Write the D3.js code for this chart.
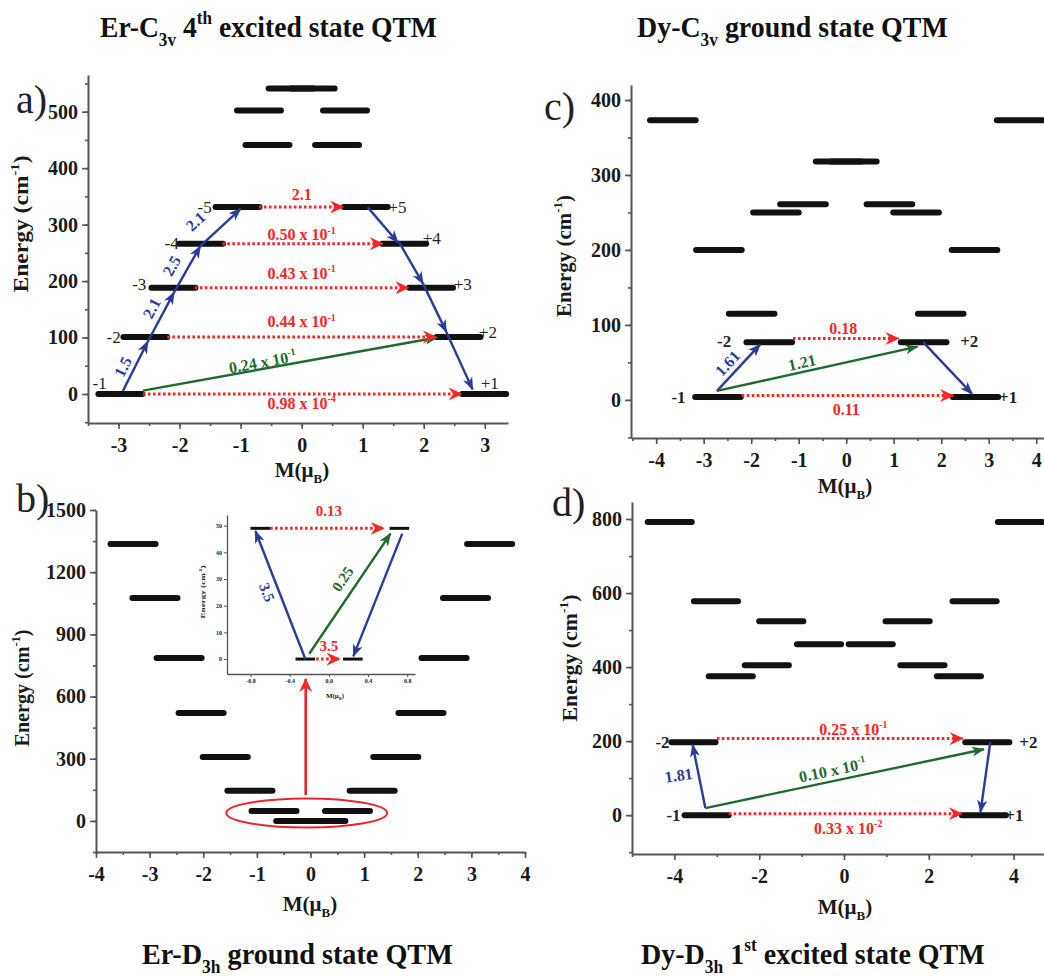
<!DOCTYPE html>
<html>
<head>
<meta charset="utf-8">
<script src="https://cdn.jsdelivr.net/npm/d3@7"></script>
<style>
  body { margin: 0; background: #fff; }
  svg { display: block; font-family: "Liberation Serif", "Times New Roman", serif; }
</style>
</head>
<body>
<svg id="chart" width="1044" height="976"></svg>
<script>
// ---------- data ----------
// energy levels: [M (muB), E (cm-1)]
const levelsA = [[-2.97,0],[2.99,0],[-2.56,101],[2.57,101],[-2.1,188],[2.12,188],[-1.65,266],[1.68,266],
  [-1.05,331],[1.05,331],[-0.56,441],[0.58,441],[-0.7,502],[0.71,502],[-0.18,541],[0.18,541]]
const levelsB = [[-3.31,1336],[3.34,1336],[-2.9,1076],[2.89,1076],[-2.45,786],[2.49,786],[-2.04,521],[2.06,521],
  [-1.59,308],[1.59,308],[-1.13,145],[1.15,145],[-0.68,48],[0.69,48],[-0.22,0],[0.23,0]]
const levelsC = [[-3.65,373],[3.65,373],[-2.68,200],[2.7,200],[-1.99,115],[1.99,115],[-1.62,77],[1.63,77],
  [-1.48,250],[1.47,250],[-0.91,261],[0.91,261],[-0.16,318],[0.16,318],[-2.7,4],[2.72,4]]
const levelsD = [[-4.11,792],[4.15,792],[-3.02,578],[3.08,578],[-2.67,375],[2.71,375],[-1.82,405],[1.85,405],
  [-1.48,524],[1.5,524],[-0.59,462],[0.63,462],[-3.55,197],[3.38,197],[-3.24,0],[3.3,0]]
const levelsInset = [[-0.7,49],[0.72,49],[-0.24,0],[0.245,0]]

// state tags: [text, M, E]
const tagsA = [["-1",-3.31,19],["+1",3.08,19],["-2",-3.08,101],["+2",3.05,110],["-3",-2.66,195],["+3",2.64,195],
  ["-4",-2.13,268],["+4",2.13,277],["-5",-1.59,331],["+5",1.57,331]]
const tagsC = [["-2",-2.57,79],["+2",2.59,79],["-1",-3.53,4],["+1",3.41,4]]
const tagsD = [["-2",-4.28,197],["+2",4.35,197],["-1",-4.02,0],["+1",4.02,0]]

// transitions: [kind, M1, E1, M2, E2, label, labelM, labelE]
const arrowsA = [
  ["blue",-2.93,5,-2.52,93,"1.5",-2.93,48],
  ["blue",-2.52,93,-2.09,180,"2.1",-2.46,152],
  ["blue",-2.09,180,-1.66,262,"2.5",-2.13,227],
  ["blue",-1.66,262,-1.0,328,"2.1",-1.74,306],
  ["blue",1.08,331,1.58,268],
  ["blue",1.6,268,1.99,195],
  ["blue",1.99,195,2.37,110],
  ["blue",2.37,110,2.8,8],
  ["green",-2.6,6,2.22,100,"0.24 x 10^{-1}",-0.64,57],
  ["red",-2.6,0,2.62,0,"0.98 x 10^{-4}",0,-17],
  ["red",-2.2,101,2.2,101,"0.44 x 10^{-1}",0,128],
  ["red",-1.75,188,1.75,188,"0.43 x 10^{-1}",0,214],
  ["red",-1.3,266,1.33,266,"0.50 x 10^{-1}",0,282],
  ["red",-0.7,331,0.68,331,"2.1",0,353]
]
const arrowsC = [
  ["blue",-2.72,12,-1.81,74,"1.61",-2.5,49],
  ["green",-2.72,12,1.5,71,"1.21",-0.93,50],
  ["blue",1.62,77,2.65,8],
  ["red",-1.12,82,1.1,82,"0.18",-0.06,96],
  ["red",-2.2,6,2.25,6,"0.11",0,-12]
]
const arrowsD = [
  ["blue",-3.27,19,-3.57,190,"1.81",-3.9,108],
  ["green",-3.27,19,3.3,178,"0.10 x 10^{-1}",-0.27,122],
  ["blue",3.45,197,3.22,8],
  ["red",-3.0,207,2.8,207,"0.25 x 10^{-1}",0.22,232],
  ["red",-2.72,4,2.78,4,"0.33 x 10^{-2}",0.1,-35]
]
const arrowsInset = [
  ["blue",-0.24,0,-0.75,48,"3.5",-0.63,25],
  ["green",-0.2,2,0.63,47,"0.25",0.14,30],
  ["blue",0.75,47,0.25,1],
  ["red",-0.6,49,0.56,49,"0.13",0,55.5],
  ["red",-0.13,0,0.11,0,"3.5",0,5]
]
// panel b: red ellipse [M, E, rM, rE] around the ground doublets and the zoom arrow [M1,E1,M2,E2]
const ellipseB = [-0.07, 38, 1.5, 70]
const zoomArrowB = [-0.09, 125, -0.09, 685]

// ticks
const yTicksA = [0,100,200,300,400,500], xTicksA = [-3,-2,-1,0,1,2,3]
const yTicksB = [0,300,600,900,1200,1500], xTicksB = [-4,-3,-2,-1,0,1,2,3,4]
const yTicksC = [0,100,200,300,400], xTicksC = [-4,-3,-2,-1,0,1,2,3,4]
const yTicksD = [0,200,400,600,800], xTicksD = [-4,-2,0,2,4]
const yTicksInset = [0,10,20,30,40,50], xTicksInset = [-0.8,-0.4,0,0.4,0.8]

const titles = ["Er-C_{3v} 4^{th} excited state QTM", "Dy-C_{3v} ground state QTM",
  "Er-D_{3h} ground state QTM", "Dy-D_{3h} 1^{st} excited state QTM"]

// ---------- drawing ----------
const FONT = '"Liberation Serif", "Times New Roman", serif'
const colors = {blue: "#2b3b9c", green: "#1d6b2c", red: "#ff2424"}
const flatLabels = new Set(["1.81"])
const svg = d3.select("#chart")

const defs = svg.append("defs")
Object.entries(colors).forEach(([k, c]) => {
  const big = k === "red"
  defs.append("marker")
      .attr("id", "head-" + k)
      .attr("viewBox", "0 -7 15 14")
      .attr("refX", big ? 13 : 12).attr("refY", 0)
      .attr("markerWidth", 15).attr("markerHeight", 14)
      .attr("markerUnits", "userSpaceOnUse")
      .attr("orient", "auto")
    .append("path")
      .attr("d", big ? "M0,-6.5L14,0L0,6.5L4.5,0Z" : "M0,-5L13,0L0,5L3.5,0Z")
      .attr("fill", c)
})

// text with ^{sup} and _{sub}; dy0 = offset of the first run
function rich(t, str, size, dy0 = 0) {
  const re = /([_^])\{([^}]*)\}/g
  let last = 0, m, shift = -dy0
  const add = (s, dy, fs) => t.append("tspan").attr("dy", dy).attr("font-size", fs).text(s)
  while ((m = re.exec(str))) {
    if (m.index > last) { add(str.slice(last, m.index), -shift, size); shift = 0 }
    const s = m[1] === "^" ? -0.42 * size : 0.3 * size
    add(m[2], s - shift, size * 0.62)
    shift = s
    last = re.lastIndex
  }
  if (last < str.length) add(str.slice(last), -shift, size)
  return t
}

// squeeze a text to a given width (the reference type is condensed)
function fitWidth(t, w, pre) {
  const k = w / t.node().getComputedTextLength()
  t.attr("transform", `${pre} scale(${k},1)`)
}

function styleAxis(g, size) {
  g.attr("font-family", FONT).attr("font-size", size).attr("font-weight", "bold")
  g.select(".domain").attr("stroke", "#555").attr("stroke-width", size > 10 ? 2 : 1.3)
  g.selectAll(".tick line").attr("stroke", "#555").attr("stroke-width", size > 10 ? 1.6 : 1)
  g.selectAll(".tick text").attr("fill", "#1a1a1a")
}

function drawPanel(p) {
  const g = svg.append("g")
  const x = d3.scaleLinear().domain(p.xDomain).range([p.l, p.r])
  const y = d3.scaleLinear().domain(p.yDomain).range([p.b, p.t])
  const fs = p.small ? 6 : 20
  const tk = p.small ? 3 : 6
  const fmt = p.small ? (d => d === 0 ? "0.0" : d.toFixed(1)) : (d => String(d))

  // minor ticks
  if (p.xMinor) g.append("g").attr("transform", `translate(0,${p.b})`)
      .call(d3.axisBottom(x).tickValues(p.xMinor).tickSize(3).tickFormat(""))
      .call(s => { s.select(".domain").remove(); styleAxis(s, fs) })
  if (p.yMinor) g.append("g").attr("transform", `translate(${p.l},0)`)
      .call(d3.axisLeft(y).tickValues(p.yMinor).tickSize(3).tickFormat(""))
      .call(s => { s.select(".domain").remove(); styleAxis(s, fs) })

  g.append("g").attr("transform", `translate(0,${p.b})`)
      .call(d3.axisBottom(x).tickValues(p.xTicks).tickSize(tk).tickSizeOuter(0)
        .tickPadding(p.small ? 2 : 9).tickFormat(fmt))
      .call(s => styleAxis(s, fs))
  g.append("g").attr("transform", `translate(${p.l},0)`)
      .call(d3.axisLeft(y).tickValues(p.yTicks).tickSize(tk).tickSizeOuter(0)
        .tickPadding(p.small ? 2 : 4).tickFormat(p.small ? (d => String(d)) : fmt))
      .call(s => styleAxis(s, fs))

  // axis titles
  const at = p.axisText
  const ey = rich(g.append("text")
      .attr("text-anchor", "middle").attr("font-weight", "bold").attr("fill", "#1a1a1a")
      .attr("font-size", at.size),
    "Energy (cm^{-1})", at.size)
  fitWidth(ey, at.ey[2], `translate(${at.ey[0]},${at.ey[1]}) rotate(-90)`)
  rich(g.append("text")
      .attr("x", at.mx[0]).attr("y", at.mx[1])
      .attr("text-anchor", "middle").attr("font-weight", "bold").attr("fill", "#1a1a1a")
      .attr("font-size", at.size),
    "M(μ_{B})", at.size)

  // energy levels
  g.append("g").selectAll("line").data(p.levels).join("line")
      .attr("x1", d => x(d[0] - p.half)).attr("x2", d => x(d[0] + p.half))
      .attr("y1", d => y(d[1])).attr("y2", d => y(d[1]))
      .attr("stroke", "#111").attr("stroke-width", p.small ? 3 : 6)
      .attr("stroke-linecap", p.small ? "butt" : "round")

  // transitions
  g.append("g").selectAll("line").data(p.arrows).join("line")
      .attr("x1", d => x(d[1])).attr("y1", d => y(d[2]))
      .attr("x2", d => x(d[3])).attr("y2", d => y(d[4]))
      .attr("stroke", d => colors[d[0]])
      .attr("stroke-width", d => d[0] === "red" ? 3 : 2.4)
      .attr("stroke-dasharray", d => d[0] === "red" ? "2.6,2.4" : null)
      .attr("marker-end", d => `url(#head-${d[0]})`)

  const ls = p.small ? 15 : 16
  g.append("g").selectAll("text").data(p.arrows.filter(d => d[5])).join("text")
      .attr("transform", d => {
        let a = Math.atan2(y(d[4]) - y(d[2]), x(d[3]) - x(d[1])) * 180 / Math.PI
        if (a > 90) a -= 180
        if (a < -90) a += 180
        if (flatLabels.has(d[5])) a = -8
        return `translate(${x(d[6])},${y(d[7])}) rotate(${a})`
      })
      .attr("text-anchor", "middle")
      .attr("font-weight", "bold").attr("fill", d => colors[d[0]])
      .each(function(d) { rich(d3.select(this), d[5], ls, 0.35 * ls) })

  // state tags
  g.append("g").selectAll("text").data(p.tags || []).join("text")
      .attr("x", d => x(d[1])).attr("y", d => y(d[2]))
      .attr("dy", "0.35em").attr("text-anchor", "middle")
      .attr("font-size", 17).attr("fill", "#222")
      .attr("font-weight", p.tagWeight || "bold")
      .text(d => d[0])

  if (p.letter) svg.append("text")
      .attr("x", p.letter[1]).attr("y", p.letter[2])
      .attr("font-size", 40).attr("fill", "#222")
      .text(p.letter[0])
  return {x, y, g}
}

drawPanel({l: 88, r: 508, t: 75, b: 423, xDomain: [-3.5, 3.38], yDomain: [-51.4, 565],
  xTicks: xTicksA, yTicks: yTicksA, xMinor: d3.range(-3.5, 3.4, 0.5), yMinor: d3.range(-50, 566, 50),
  levels: levelsA, half: 0.36, arrows: arrowsA, tags: tagsA, tagWeight: "normal",
  axisText: {size: 21, ey: [28, 224, 137], mx: [302, 477]}, letter: ["a)", 16, 113]})

drawPanel({l: 631, r: 1060, t: 85, b: 438, xDomain: [-4.53, 4.5], yDomain: [-50.8, 420],
  xTicks: xTicksC, yTicks: yTicksC, xMinor: d3.range(-4.5, 4.6, 0.5), yMinor: d3.range(-50, 421, 50),
  levels: levelsC, half: 0.48, arrows: arrowsC, tags: tagsC,
  axisText: {size: 21, ey: [571, 256, 122], mx: [845, 493]}, letter: ["c)", 544, 120]})

const pb = drawPanel({l: 96, r: 525, t: 510, b: 852, xDomain: [-4, 4], yDomain: [-150, 1500],
  xTicks: xTicksB, yTicks: yTicksB, xMinor: d3.range(-4, 4.1, 0.5), yMinor: d3.range(-150, 1501, 150),
  levels: levelsB, half: 0.42, arrows: [],
  axisText: {size: 21, ey: [29, 688, 117], mx: [310, 911]}, letter: ["b)", 16, 512]})

// zoom marker in panel b
pb.g.append("ellipse")
    .attr("cx", pb.x(ellipseB[0])).attr("cy", pb.y(ellipseB[1]))
    .attr("rx", pb.x(ellipseB[0] + ellipseB[2]) - pb.x(ellipseB[0]))
    .attr("ry", pb.y(ellipseB[1]) - pb.y(ellipseB[1] + ellipseB[3]))
    .attr("fill", "none").attr("stroke", "#e8262a").attr("stroke-width", 2)
pb.g.append("line")
    .attr("x1", pb.x(zoomArrowB[0])).attr("y1", pb.y(zoomArrowB[1]))
    .attr("x2", pb.x(zoomArrowB[2])).attr("y2", pb.y(zoomArrowB[3]))
    .attr("stroke", "#e8262a").attr("stroke-width", 2.6)
    .attr("marker-end", "url(#head-red)")

drawPanel({l: 227, r: 415, t: 515, b: 674, xDomain: [-1.04, 0.88], yDomain: [-5.6, 54], small: true,
  xTicks: xTicksInset, yTicks: yTicksInset,
  levels: levelsInset, half: 0.1, arrows: arrowsInset,
  axisText: {size: 7, ey: [205, 592, 53], mx: [335, 698]}})

drawPanel({l: 632, r: 1056, t: 502, b: 854, xDomain: [-5, 5], yDomain: [-105, 846],
  xTicks: xTicksD, yTicks: yTicksD, xMinor: d3.range(-5, 5.1, 1), yMinor: d3.range(-100, 846, 100),
  levels: levelsD, half: 0.52, arrows: arrowsD, tags: tagsD,
  axisText: {size: 21, ey: [577, 658, 127], mx: [845, 914]}, letter: ["d)", 552, 516]})

// panel titles [x0, x1, baseline]
const titlePos = [[100, 437, 37], [637, 948, 37], [142, 453, 964], [641, 985, 964]]
titles.forEach((s, i) => {
  const [x0, x1, yb] = titlePos[i]
  const t = rich(svg.append("text")
      .attr("font-size", 30).attr("font-weight", "bold").attr("fill", "#111"),
    s, 30)
  fitWidth(t, x1 - x0, `translate(${x0},${yb})`)
})
</script>
</body>
</html>
